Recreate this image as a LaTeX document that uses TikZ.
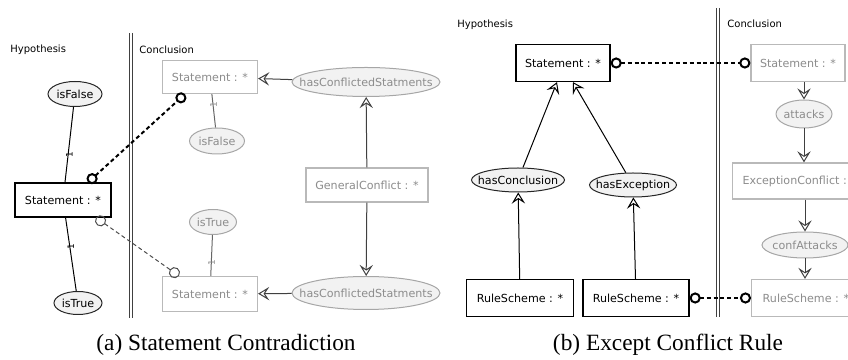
\documentclass[tikz,border=0pt]{standalone}
\usepackage{fontspec}
\setmainfont{Liberation Serif}
\newfontfamily\umlfont{DejaVu Sans}
\usepackage{tikz}
\usetikzlibrary{arrows.meta,shapes.geometric,positioning}

\tikzset{
  cls/.style={draw=black, line width=0.55pt, fill=white, inner sep=0pt, font=\umlfont\fontsize{5}{6}\selectfont},
  clsc/.style={cls, draw=gray!55, text=gray!90},
  prop/.style={ellipse, draw=black!85, line width=0.45pt, fill=gray!10, inner sep=0pt, font=\umlfont\fontsize{5}{6}\selectfont,
    execute at begin node={\hbox to 0pt\bgroup\hss}, execute at end node={\hss\egroup}},
  propc/.style={prop, draw=gray!70, text=gray!90},
  zone/.style={inner sep=0pt, anchor=west, font=\umlfont\fontsize{4.5}{5}\selectfont},
  capt/.style={inner sep=0pt, font=\fontsize{10.5}{12}\selectfont},
  mult/.style={inner sep=0pt, rotate=90, font=\umlfont\fontsize{4}{5}\selectfont},
  divider/.style={draw=black!75, line width=0.45pt, double=white, double distance=0.5pt},
  assoc/.style={draw=black, line width=0.45pt},
  assocc/.style={draw=black!60, line width=0.45pt},
  nav/.style={draw=black, line width=0.45pt, -{Stealth[open,length=5pt,width=6pt,inset=2pt]}},
  navc/.style={nav, draw=black!75},
  corr/.style={{Circle[open,length=5pt]}-{Circle[open,length=5pt]}, line width=0.9pt, dash pattern=on 1.8pt off 1.3pt},
  corrthin/.style={corr, line width=0.45pt, draw=black!70}
}

\begin{document}
\begin{tikzpicture}[x=0.45pt,y=-0.45pt]
\useasboundingbox (0,0) rectangle (848,360);

% (a) Statement Contradiction
\node[zone] (hypA) at (10,50) {Hypothesis};
\node[zone] (conA) at (139,50) {Conclusion};
\draw[divider] (131,33) -- (131,318);

\node[prop, minimum width=24.3pt, minimum height=11.25pt] (isFalseH) at (75,94) {isFalse};
\node[cls, minimum width=43.2pt, minimum height=15.3pt] (stmtH) at (63,200) {Statement : *};
\node[prop, minimum width=21.6pt, minimum height=10.35pt] (isTrueH) at (78,303) {isTrue};

\node[clsc, minimum width=42.75pt, minimum height=14.85pt] (stmtC1) at (210,77) {Statement : *};
\node[propc, minimum width=24.75pt, minimum height=11.7pt] (isFalseC) at (217,141) {isFalse};
\node[propc, minimum width=66.6pt, minimum height=13.05pt] (conflC1) at (366,82) {hasConflictedStatments};
\node[clsc, minimum width=54.9pt, minimum height=15.3pt] (genC) at (367,185) {GeneralConflict : *};
\node[propc, minimum width=21.15pt, minimum height=11.25pt] (isTrueC) at (213,222) {isTrue};
\node[clsc, minimum width=42.75pt, minimum height=15.75pt] (stmtC2) at (210,294) {Statement : *};
\node[propc, minimum width=66.6pt, minimum height=14.85pt] (conflC2) at (366,293) {hasConflictedStatments};

\node[capt] (capA) at (226,345) {(a) Statement Contradiction};

% Connectors
\draw[assoc] (isFalseH) -- node[mult, xshift=-4.3pt] {1} (stmtH);
\draw[assoc] (stmtH) -- node[mult, xshift=3.6pt] {1} (isTrueH);
\draw[assocc] (stmtC1) -- node[mult, text=gray!90, xshift=2.7pt] {1} (isFalseC);
\draw[assocc] (isTrueC) -- node[mult, text=gray!90, xshift=-3.2pt] {1} (stmtC2);
\draw[navc] (conflC1) -- (stmtC1);
\draw[navc] (genC) -- (conflC1);
\draw[navc] (genC) -- (conflC2);
\draw[navc] (conflC2) -- (stmtC2);
\draw[corr] ([xshift=11.25pt]stmtH.north) -- ([xshift=-11.25pt]stmtC1.south);
\draw[corrthin] ([xshift=14.85pt]stmtH.south) -- ([xshift=-13.95pt]stmtC2.north);

% (b) Except Conflict Rule
\node[zone] (hypB) at (457,25) {Hypothesis};
\node[zone] (conB) at (727,24) {Conclusion};
\draw[divider] (718,8) -- (718,317);

\node[cls, minimum width=42.3pt, minimum height=16.65pt] (stmtHB) at (563,63) {Statement : *};
\node[prop, minimum width=41.85pt, minimum height=10.8pt] (hasConcl) at (518,180) {hasConclusion};
\node[prop, minimum width=39.15pt, minimum height=10.8pt] (hasExc) at (633,185) {hasException};
\node[cls, minimum width=48.15pt, minimum height=16.65pt] (ruleH1) at (520,298) {RuleScheme : *};
\node[cls, minimum width=47.7pt, minimum height=16.65pt] (ruleH2) at (636,298) {RuleScheme : *};

\node[clsc, minimum width=42.3pt, minimum height=16.65pt] (stmtCB) at (798,63) {Statement : *};
\node[propc, minimum width=25.2pt, minimum height=12.6pt] (attacks) at (804,114) {attacks};
\node[clsc, anchor=west, inner xsep=4.5pt, minimum height=16.2pt] (excC) at (732,181) {ExceptionConflict : *};
\node[propc, minimum width=38.7pt, minimum height=11.7pt] (confAtt) at (805,245) {confAttacks};
\node[clsc, anchor=west, inner xsep=5pt, minimum height=16.65pt] (ruleC) at (751,298) {RuleScheme : *};

\node[capt] (capB) at (668,345) {(b) Except Conflict Rule};

% Connectors
\draw[nav] (hasConcl) -- ([xshift=-2.7pt]stmtHB.south);
\draw[nav] (hasExc) -- ([xshift=4.5pt]stmtHB.south);
\draw[nav] (ruleH1) -- (hasConcl);
\draw[nav] (ruleH2) -- (hasExc);
\draw[navc] (stmtCB.south -| attacks) -- (attacks);
\draw[navc] (attacks) -- (attacks |- excC.north);
\draw[navc] (excC.south -| confAtt) -- (confAtt);
\draw[navc] (confAtt) -- (confAtt |- ruleC.north);
\draw[corr] (stmtHB) -- (stmtCB);
\draw[corr] (ruleH2.east) -- (ruleC.west);
\end{tikzpicture}
\end{document}
